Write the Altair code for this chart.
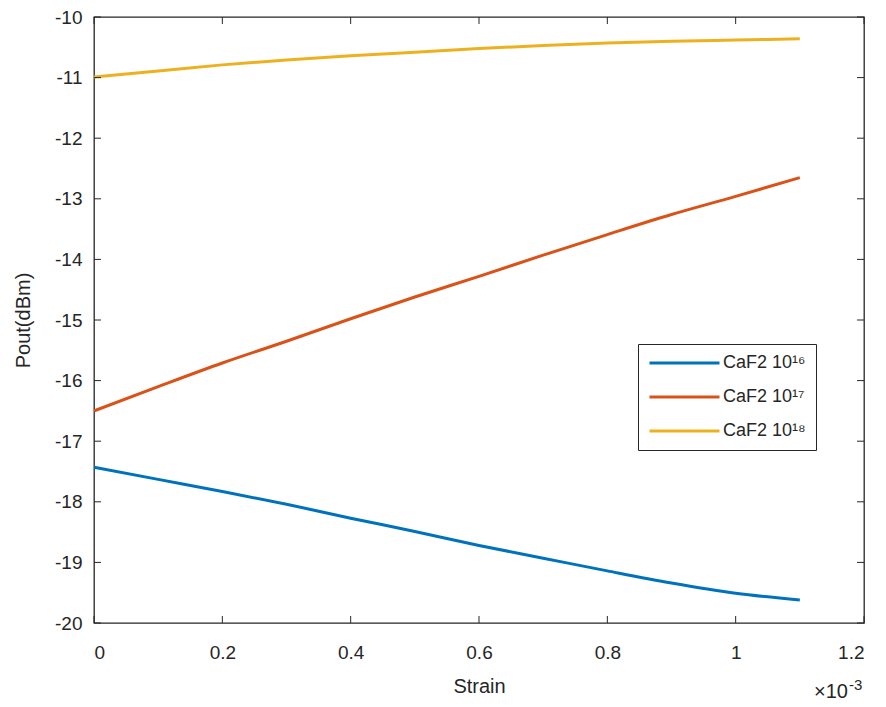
import altair as alt
import pandas as pd

strain = [0.0, 0.1, 0.2, 0.3, 0.4, 0.5, 0.6, 0.7, 0.8, 0.9, 1.0, 1.1]  # x 10^-3
pout_1e16 = [-17.43, -17.63, -17.83, -18.04, -18.27, -18.49, -18.72, -18.93, -19.14, -19.34, -19.51, -19.62]
pout_1e17 = [-16.50, -16.10, -15.71, -15.35, -14.98, -14.62, -14.28, -13.93, -13.59, -13.26, -12.96, -12.65]
pout_1e18 = [-10.99, -10.89, -10.79, -10.71, -10.64, -10.58, -10.52, -10.47, -10.43, -10.40, -10.38, -10.36]
series = ["CaF2 10¹⁶", "CaF2 10¹⁷", "CaF2 10¹⁸"]
colors = ["#0072BD", "#D95319", "#EDB120"]
x_ticks = [0, 0.2, 0.4, 0.6, 0.8, 1.0, 1.2]
y_ticks = [-20, -19, -18, -17, -16, -15, -14, -13, -12, -11, -10]
exp_base = ["×10"]
exp_power = ["-3"]

W, H = 770, 606
FONT = "Liberation Sans"
INK = "#262626"

rows = []
for name, vals in zip(series, [pout_1e16, pout_1e17, pout_1e18]):
    for s, p in zip(strain, vals):
        rows.append({"strain": s, "pout": p, "series": name})
df = pd.DataFrame(rows)

xscale = alt.Scale(domain=[0, 1.2], nice=False, zero=False)
yscale = alt.Scale(domain=[-20, -10], nice=False, zero=False)

lines = alt.Chart(df).mark_line(strokeWidth=3, interpolate="monotone").encode(
    x=alt.X("strain:Q", scale=xscale, title="Strain",
            axis=alt.Axis(values=x_ticks, format="~g", grid=False, ticks=False, domain=False,
                          labelPadding=20, titlePadding=14)),
    y=alt.Y("pout:Q", scale=yscale, title="Pout(dBm)",
            axis=alt.Axis(values=y_ticks, grid=False, ticks=False, domain=False,
                          labelExpr="replace(format(datum.value, '~g'), '\u2212', '-')",
                          labelPadding=12, titlePadding=21)),
    color=alt.Color("series:N", scale=alt.Scale(domain=series, range=colors),
                    legend=alt.Legend(title=None, orient="none", legendX=544, legendY=327,
                                      symbolType="stroke", symbolSize=4900, symbolStrokeWidth=3,
                                      clipHeight=18, rowPadding=16, labelFontSize=18,
                                      labelFont=FONT, labelColor=INK, labelOffset=2,
                                      strokeColor=INK, padding=10, fillColor="white")),
)

xt = pd.DataFrame({"t": x_ticks})
yt = pd.DataFrame({"t": y_ticks})
tick_bottom = alt.Chart(xt).mark_rule(color=INK, strokeWidth=1).encode(
    x=alt.X("t:Q", scale=xscale), y=alt.value(H), y2=alt.value(H - 7))
tick_top = alt.Chart(xt).mark_rule(color=INK, strokeWidth=1).encode(
    x=alt.X("t:Q", scale=xscale), y=alt.value(0), y2=alt.value(7))
tick_left = alt.Chart(yt).mark_rule(color=INK, strokeWidth=1).encode(
    y=alt.Y("t:Q", scale=yscale), x=alt.value(0), x2=alt.value(7))
tick_right = alt.Chart(yt).mark_rule(color=INK, strokeWidth=1).encode(
    y=alt.Y("t:Q", scale=yscale), x=alt.value(W), x2=alt.value(W - 7))

exp_b = alt.Chart(pd.DataFrame({"txt": exp_base})).mark_text(
    align="right", baseline="alphabetic", fontSize=20, font=FONT, color=INK
).encode(x=alt.value(W - 16), y=alt.value(H + 75), text="txt:N")
exp_p = alt.Chart(pd.DataFrame({"txt": exp_power})).mark_text(
    align="left", baseline="alphabetic", fontSize=15, font=FONT, color=INK
).encode(x=alt.value(W - 15), y=alt.value(H + 67), text="txt:N")

chart = alt.layer(lines, tick_bottom, tick_top, tick_left, tick_right, exp_b, exp_p).properties(
    width=W, height=H,
    autosize=alt.AutoSizeParams(type="none"),
    padding={"left": 86, "top": 9, "right": 14, "bottom": 84},
    background="white",
).configure_view(stroke=INK, strokeWidth=1.3).configure_axis(
    labelFont=FONT, labelFontSize=19, labelColor=INK,
    titleFont=FONT, titleFontSize=20, titleColor=INK, titleFontWeight="normal",
)

chart.save("out.html", embed_options={"renderer": "svg", "actions": False})
